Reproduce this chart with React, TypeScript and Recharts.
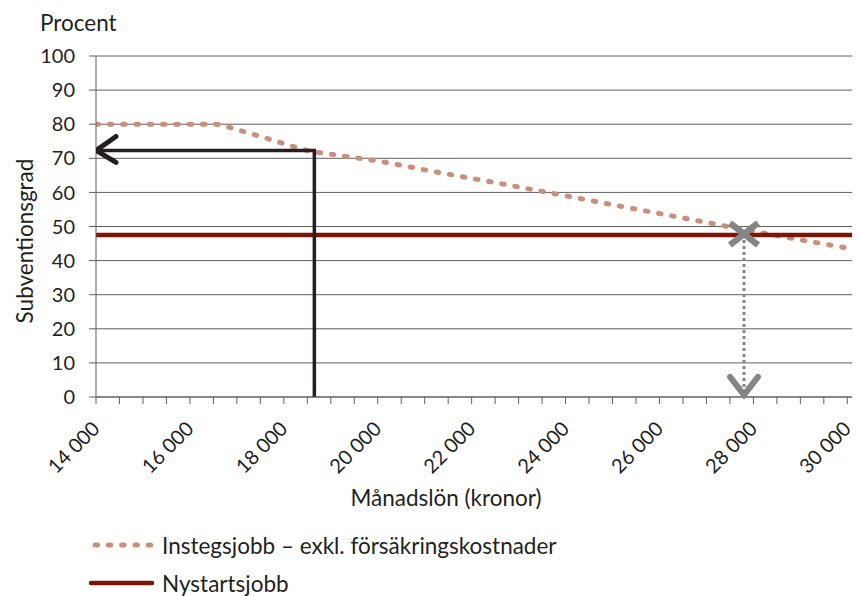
import React from 'react'
import { LineChart, Line, XAxis, YAxis, CartesianGrid } from 'recharts'

// Månadslön (kronor) och subventionsgrad (procent)
const lonX = [
  14000, 14500, 15000, 15500, 16000, 16500, 17000, 17500, 18000, 18500, 19000,
  19500, 20000, 21000, 22000, 23000, 24000, 25000, 26000, 27000, 28000, 29000, 30000,
]
const instegsjobb = [
  80, 80, 80, 80, 80, 80, 78.4, 76.4, 74.3, 72.3, 71.2,
  70.2, 69.2, 66.6, 64.1, 61.6, 59.0, 56.4, 53.8, 51.2, 48.6, 46.1, 43.7,
]
const nystartsjobbX = [14000, 30100]
const nystartsjobb = [47.5, 47.5]

// annotations: black pointer at 18 650 kr, grey break-even mark
const pointerX = [14000, 18650, 18650]
const pointerY = [72.3, 72.3, 0]
const breakEvenX = [27800, 27800]
const breakEvenY = [47.8, 0.6]

const xTicks = [
  14000, 14500, 15000, 15500, 16000, 16500, 17000, 17500, 18000, 18500, 19000,
  19500, 20000, 20500, 21000, 21500, 22000, 22500, 23000, 23500, 24000, 24500,
  25000, 25500, 26000, 26500, 27000, 27500, 28000, 28500, 29000, 29500, 30000,
]
const yTicks = [0, 10, 20, 30, 40, 50, 60, 70, 80, 90, 100]

const legendLabels = ['Instegsjobb – exkl. försäkringskostnader', 'Nystartsjobb']

const TEXT = '#231f20'
const GRID = '#5e5e5e'
const SALMON = '#c8907a'
const DARKRED = '#7a1508'
const GREY = '#858585'
const FONT = 'Lato, "Open Sans", sans-serif'

const zip = (xs: number[], ys: number[]) => xs.map((x, i) => ({ x, y: ys[i] }))

const instegsData = zip(lonX, instegsjobb)
const nystartData = zip(nystartsjobbX, nystartsjobb)
const pointerData = zip(pointerX, pointerY)
const breakEvenData = zip(breakEvenX, breakEvenY)

const fmtKr = (v: number) => `${Math.floor(v / 1000)} 000`

function XTick(props: any) {
  const { x, y, payload } = props
  if (payload.value % 2000 !== 0) return <g />
  const ax = x + 5
  const ay = y + 26
  return (
    <text
      x={ax}
      y={ay}
      transform={`rotate(-45 ${ax} ${ay})`}
      textAnchor="end"
      fontSize={20}
      fill={TEXT}
      fontFamily={FONT}
    >
      {fmtKr(payload.value)}
    </text>
  )
}

function PointerDot(props: any) {
  const { cx, cy, index } = props
  if (index !== 0) return <g key={`p-${index}`} />
  return (
    <path
      key={`p-${index}`}
      d={`M${cx + 20},${cy - 14} L${cx},${cy} L${cx + 20},${cy + 12}`}
      fill="none"
      stroke={TEXT}
      strokeWidth={5}
      strokeLinecap="round"
      strokeLinejoin="miter"
    />
  )
}

function BreakEvenDot(props: any) {
  const { cx, cy, index } = props
  if (index === 0) {
    return (
      <path
        key={`b-${index}`}
        d={`M${cx - 14},${cy - 11} L${cx + 14},${cy + 11} M${cx - 14},${cy + 11} L${cx + 14},${cy - 11}`}
        stroke={GREY}
        strokeWidth={6.5}
        fill="none"
      />
    )
  }
  return (
    <path
      key={`b-${index}`}
      d={`M${cx - 14},${cy - 18} L${cx},${cy} L${cx + 14},${cy - 18}`}
      stroke={GREY}
      strokeWidth={6}
      fill="none"
      strokeLinecap="round"
    />
  )
}

export default function App() {
  return (
    <div style={{ position: 'absolute', left: 0, top: 0, width: 858, height: 596, background: '#fff', fontFamily: FONT, color: TEXT }}>
      <LineChart width={858} height={596} data={instegsData} margin={{ top: 56, right: 6, left: 0, bottom: 159 }}>
        <CartesianGrid vertical={false} stroke={GRID} strokeWidth={1} />
        <XAxis
          type="number"
          dataKey="x"
          domain={[14000, 30100]}
          ticks={xTicks}
          interval={0}
          tickSize={7}
          tickMargin={0}
          height={40}
          stroke={GRID}
          tick={<XTick />}
          allowDataOverflow
        />
        <YAxis
          type="number"
          dataKey="y"
          domain={[0, 100]}
          ticks={yTicks}
          interval={0}
          tickSize={7}
          tickMargin={14}
          width={96}
          stroke={GRID}
          tick={{ fill: TEXT, fontSize: 20, fontFamily: FONT }}
        />
        <Line
          data={instegsData}
          dataKey="y"
          type="monotone"
          stroke={SALMON}
          strokeWidth={5}
          strokeDasharray="2.5 10.8"
          strokeLinecap="round"
          dot={false}
          activeDot={false}
          isAnimationActive={false}
        />
        <Line
          data={nystartData}
          dataKey="y"
          type="linear"
          stroke={DARKRED}
          strokeWidth={4.5}
          dot={false}
          activeDot={false}
          isAnimationActive={false}
        />
        <Line
          data={pointerData}
          dataKey="y"
          type="linear"
          stroke={TEXT}
          strokeWidth={3.5}
          dot={<PointerDot />}
          activeDot={false}
          isAnimationActive={false}
        />
        <Line
          data={breakEvenData}
          dataKey="y"
          type="linear"
          stroke={GREY}
          strokeWidth={3}
          strokeDasharray="3 3"
          dot={<BreakEvenDot />}
          activeDot={false}
          isAnimationActive={false}
        />
      </LineChart>

      <div style={{ position: 'absolute', left: 40, top: 9, fontSize: 22.5 }}>Procent</div>
      <div
        style={{
          position: 'absolute',
          left: 24,
          top: 241,
          fontSize: 22.5,
          whiteSpace: 'nowrap',
          transform: 'translate(-50%, -50%) rotate(-90deg)',
        }}
      >
        Subventionsgrad
      </div>
      <div
        style={{ position: 'absolute', left: 446, top: 497, fontSize: 22.5, whiteSpace: 'nowrap', transform: 'translate(-50%, -50%)' }}
      >
        Månadslön (kronor)
      </div>

      <div style={{ position: 'absolute', left: 88, top: 531, display: 'flex', alignItems: 'center', fontSize: 22.5 }}>
        <svg width={68} height={28}>
          <line x1={7} y1={14} x2={64} y2={14} stroke={SALMON} strokeWidth={5} strokeDasharray="2.5 10.8" strokeLinecap="round" />
        </svg>
        <span style={{ marginLeft: 6 }}>{legendLabels[0]}</span>
      </div>
      <div style={{ position: 'absolute', left: 88, top: 569, display: 'flex', alignItems: 'center', fontSize: 22.5 }}>
        <svg width={68} height={28}>
          <line x1={3} y1={14} x2={64} y2={14} stroke={DARKRED} strokeWidth={4.5} strokeLinecap="round" />
        </svg>
        <span style={{ marginLeft: 6 }}>{legendLabels[1]}</span>
      </div>
    </div>
  )
}
